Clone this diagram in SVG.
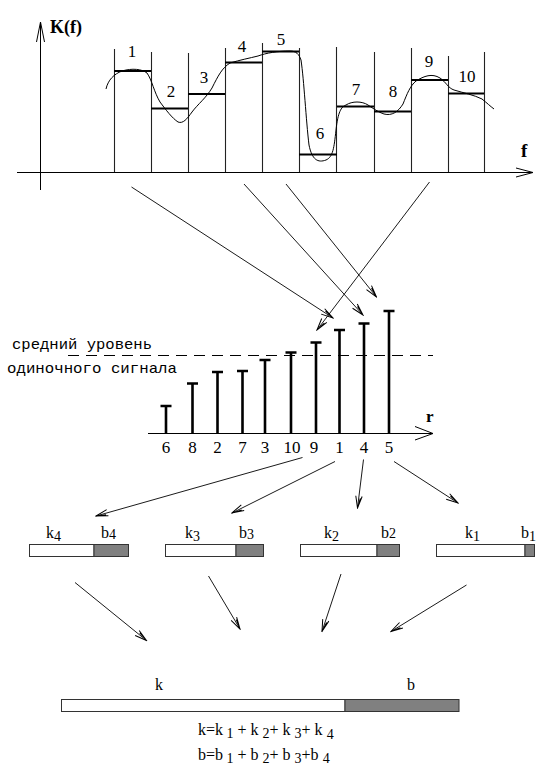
<svg xmlns="http://www.w3.org/2000/svg" width="536" height="769" viewBox="0 0 536 769">
  <style>
    .ln { stroke: #000; stroke-width: 1; fill: none; }
    .vb { stroke: #222; stroke-width: 1.1; fill: none; }
    .lvl { stroke: #000; stroke-width: 2.2; fill: none; }
    .stem { stroke: #000; stroke-width: 2.6; fill: none; }
    .conn { stroke: #000; stroke-width: 0.9; fill: none; marker-end: url(#arr); }
    .serif { font-family: 'Liberation Serif', 'DejaVu Serif', serif; }
    .num { font-family: 'Liberation Serif', 'DejaVu Serif', serif; font-size: 17px; fill: #000; text-anchor: middle; }
    .lab { font-family: 'Liberation Serif', 'DejaVu Serif', serif; font-size: 16px; fill: #000; }
    .mono { font-family: 'Liberation Mono', 'DejaVu Sans Mono', monospace; font-size: 15px; fill: #000; }
    .kbar { fill: #fff; stroke: #333; stroke-width: 1; }
    .bbar { fill: #808080; stroke: #333; stroke-width: 1; }
  </style>
  <defs>
    <marker id="arr" markerWidth="14" markerHeight="10" refX="0" refY="0" viewBox="-13 -5 14 10" orient="auto" markerUnits="userSpaceOnUse">
      <path d="M-12,-3.2 L0,0 L-12,3.2 M-10,-1.6 L0,0" stroke="#000" stroke-width="1" fill="none"/>
    </marker>
  </defs>

  <rect width="536" height="769" fill="#fff"/>

  <!-- spectrum K(f) with ten sub-bands -->
  <g id="spectrum">
    <line class="ln" x1="40.5" y1="190" x2="40.5" y2="22"/>
    <path class="ln" d="M36.5,42 L40.5,22 L44.5,42"/>
    <line class="ln" x1="17" y1="172.5" x2="533" y2="172.5"/>
    <path class="ln" d="M516,168 L533,172.5 L516,177"/>
    <text class="serif" x="50" y="33" font-size="18" font-weight="bold">K(f)</text>
    <text class="serif" x="521" y="157" font-size="19" font-weight="bold">f</text>

    <!-- band boundaries -->
    <line class="vb" x1="114.5" y1="49" x2="114.5" y2="172"/>
    <line class="vb" x1="151.5" y1="52" x2="151.5" y2="172"/>
    <line class="vb" x1="188.5" y1="53" x2="188.5" y2="172"/>
    <line class="vb" x1="225.5" y1="48" x2="225.5" y2="172"/>
    <line class="vb" x1="262.5" y1="43" x2="262.5" y2="172"/>
    <line class="vb" x1="299.5" y1="48" x2="299.5" y2="172"/>
    <line class="vb" x1="336.5" y1="47" x2="336.5" y2="172"/>
    <line class="vb" x1="374.5" y1="52" x2="374.5" y2="172"/>
    <line class="vb" x1="411.5" y1="48" x2="411.5" y2="172"/>
    <line class="vb" x1="448.5" y1="56" x2="448.5" y2="172"/>
    <line class="vb" x1="484.5" y1="52" x2="484.5" y2="172"/>

    <!-- band levels -->
    <line class="lvl" x1="114" y1="71" x2="151" y2="71"/>
    <line class="lvl" x1="151" y1="108.5" x2="188" y2="108.5"/>
    <line class="lvl" x1="188" y1="94" x2="225" y2="94"/>
    <line class="lvl" x1="225" y1="62.5" x2="262" y2="62.5"/>
    <line class="lvl" x1="262" y1="51.5" x2="299" y2="51.5"/>
    <line class="lvl" x1="299" y1="154.5" x2="337" y2="154.5"/>
    <line class="lvl" x1="337" y1="106.5" x2="374" y2="106.5"/>
    <line class="lvl" x1="374" y1="111.5" x2="411" y2="111.5"/>
    <line class="lvl" x1="411" y1="80" x2="448" y2="80"/>
    <line class="lvl" x1="448" y1="93.5" x2="484" y2="93.5"/>

    <!-- band numbers -->
    <text class="num" x="132" y="57">1</text>
    <text class="num" x="171" y="97">2</text>
    <text class="num" x="204" y="83">3</text>
    <text class="num" x="242" y="52">4</text>
    <text class="num" x="281" y="45">5</text>
    <text class="num" x="320" y="139">6</text>
    <text class="num" x="356" y="95">7</text>
    <text class="num" x="393" y="97">8</text>
    <text class="num" x="429" y="67">9</text>
    <text class="num" x="467" y="82">10</text>

    <!-- actual response curve -->
    <path class="ln" stroke-linejoin="round" d="M106,89 C108,80 114,74 122,71 C132,68 142,69 147,73 C152,80 154,92 160,102 C166,110 172,118 178,122 C183,124 187,119 192,112 C198,104 206,98 212,88 C218,76 222,68 230,63 C240,60 250,58 258,56 C266,53 278,51 290,51 C296,51 299,54 301,60 C304,80 306,120 309,145 C312,160 318,163 326,160 C333,157 334,148 336,130 C338,112 341,107 346,105 C352,101 362,101 368,105 C374,109 378,112 384,114 C392,116 398,112 403,104 C407,94 410,86 416,81 C424,76 432,73 440,78 C446,82 448,88 454,90 C464,93 474,95 482,99 C487,103 490,106 494,109"/>
  </g>

  <!-- sorted band levels -->
  <g id="ranking">
    <line class="ln" x1="148" y1="433.5" x2="433" y2="433.5"/>
    <path class="ln" d="M415,426.5 L433,433.5 L415,440"/>
    <text class="serif" x="426" y="422" font-size="17" font-weight="bold">r</text>

    <line x1="68" y1="355.5" x2="433" y2="355.5" stroke="#000" stroke-width="1" stroke-dasharray="11 7"/>
    <text class="mono" x="12" y="349" textLength="140" lengthAdjust="spacingAndGlyphs">средний уровень</text>
    <text class="mono" x="7" y="373" textLength="170" lengthAdjust="spacingAndGlyphs">одиночного сигнала</text>

    <path class="stem" d="M166,433 V406 M160.5,406 H171.5"/>
    <path class="stem" d="M192.5,433 V383.5 M187,383.5 H198"/>
    <path class="stem" d="M217.5,433 V372 M212,372 H223"/>
    <path class="stem" d="M242.5,433 V371 M237,371 H248"/>
    <path class="stem" d="M265,433 V360 M259.5,360 H270.5"/>
    <path class="stem" d="M291,433 V352.5 M285.5,352.5 H296.5"/>
    <path class="stem" d="M316,433 V342.5 M310.5,342.5 H321.5"/>
    <path class="stem" d="M339.5,433 V330 M334,330 H345"/>
    <path class="stem" d="M364,433 V323.5 M358.5,323.5 H369.5"/>
    <path class="stem" d="M389,433 V311 M383.5,311 H394.5"/>

    <text class="num" x="166" y="453">6</text>
    <text class="num" x="192.5" y="453">8</text>
    <text class="num" x="217.5" y="453">2</text>
    <text class="num" x="242.5" y="453">7</text>
    <text class="num" x="265" y="453">3</text>
    <text class="num" x="292" y="453">10</text>
    <text class="num" x="314" y="453">9</text>
    <text class="num" x="339.5" y="453">1</text>
    <text class="num" x="364" y="453">4</text>
    <text class="num" x="389" y="453">5</text>
  </g>

  <!-- per-band k/b split -->
  <g id="split4">
    <rect class="kbar" x="29.5" y="544.5" width="64.5" height="12"/>
    <rect class="bbar" x="94" y="544.5" width="34.5" height="12"/>
    <text class="lab" x="46" y="538">k<tspan font-size="14" dy="3">4</tspan></text>
    <text class="lab" x="101" y="538">b<tspan font-size="14" dy="1">4</tspan></text>
  </g>
  <g id="split3">
    <rect class="kbar" x="165.5" y="544.5" width="70.5" height="12"/>
    <rect class="bbar" x="236" y="544.5" width="27.5" height="12"/>
    <text class="lab" x="185" y="538">k<tspan font-size="14" dy="3">3</tspan></text>
    <text class="lab" x="239" y="538">b<tspan font-size="14" dy="1">3</tspan></text>
  </g>
  <g id="split2">
    <rect class="kbar" x="300.5" y="544.5" width="76.5" height="12"/>
    <rect class="bbar" x="377" y="544.5" width="22.5" height="12"/>
    <text class="lab" x="324" y="538">k<tspan font-size="14" dy="3">2</tspan></text>
    <text class="lab" x="381" y="538">b<tspan font-size="14">2</tspan></text>
  </g>
  <g id="split1">
    <rect class="kbar" x="436.5" y="544.5" width="88.5" height="12"/>
    <rect class="bbar" x="525" y="544.5" width="9.5" height="12"/>
    <text class="lab" x="465" y="538">k<tspan font-size="14" dy="3">1</tspan></text>
    <text class="lab" x="521" y="538">b<tspan font-size="14" dy="3">1</tspan></text>
  </g>

  <!-- combined k/b -->
  <g id="total">
    <rect class="kbar" x="61.5" y="699.5" width="283.5" height="12"/>
    <rect class="bbar" x="345" y="699.5" width="114" height="12"/>
    <text class="lab" x="155" y="690">k</text>
    <text class="lab" x="407" y="690">b</text>
    <text class="lab" x="198" y="735">k=k<tspan font-size="14" dy="3"> 1</tspan><tspan dy="-3"> + k </tspan><tspan font-size="14" dy="3">2</tspan><tspan dy="-3">+ k </tspan><tspan font-size="14" dy="3">3</tspan><tspan dy="-3">+ k </tspan><tspan font-size="14" dy="4">4</tspan></text>
    <text class="lab" x="198" y="760">b=b<tspan font-size="14" dy="3"> 1</tspan><tspan dy="-3"> + b </tspan><tspan font-size="14" dy="3">2</tspan><tspan dy="-3">+ b </tspan><tspan font-size="14" dy="3">3</tspan><tspan dy="-3">+b </tspan><tspan font-size="14" dy="3">4</tspan></text>
  </g>

  <!-- connectors -->
  <g id="connectors">
    <line class="conn" x1="131.5" y1="187" x2="333" y2="318"/>
    <line class="conn" x1="244" y1="184" x2="363" y2="315"/>
    <line class="conn" x1="286" y1="184" x2="376.5" y2="297"/>
    <line class="conn" x1="429.5" y1="182" x2="317" y2="330"/>

    <line class="conn" x1="302.5" y1="457.5" x2="96" y2="516"/>
    <line class="conn" x1="335" y1="461.5" x2="232" y2="513"/>
    <line class="conn" x1="363.5" y1="459.5" x2="357.5" y2="508"/>
    <line class="conn" x1="394" y1="461.5" x2="458" y2="503"/>

    <line class="conn" x1="75" y1="582.5" x2="146.5" y2="640.5"/>
    <line class="conn" x1="208.5" y1="576" x2="240" y2="629"/>
    <line class="conn" x1="341" y1="574" x2="322" y2="631.5"/>
    <line class="conn" x1="466.5" y1="585" x2="391" y2="631.5"/>
  </g>
</svg>
